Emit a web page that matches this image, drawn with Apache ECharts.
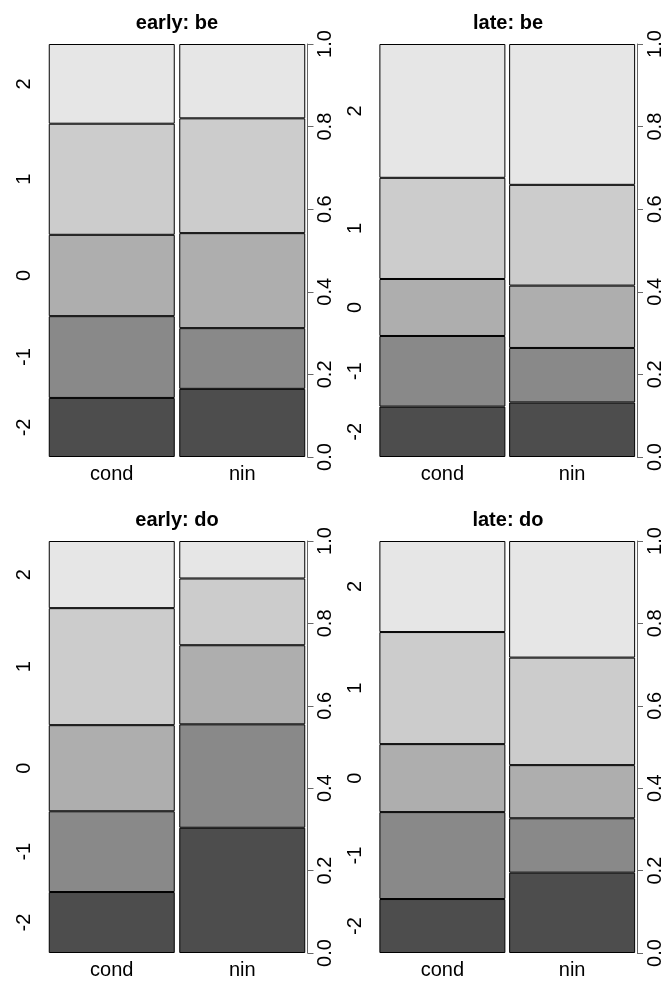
<!DOCTYPE html>
<html>
<head>
<meta charset="utf-8">
<title>spineplot</title>
<script src="https://cdn.jsdelivr.net/npm/echarts@6/dist/echarts.min.js"></script>
<style>
  html, body { margin: 0; padding: 0; background: #fff; }
  #chart { width: 665px; height: 983px; }
</style>
</head>
<body>
<div id="chart"></div>
<script>
// levels of the response, bottom to top
var levels = ['-2', '-1', '0', '1', '2'];
var groups = ['cond', 'nin'];
var panelTitles = ['early: be', 'late: be', 'early: do', 'late: do'];

// share of each level (bottom to top) inside a group
var earlyBeCond = [0.143, 0.198, 0.197, 0.269, 0.193];
var earlyBeNin  = [0.165, 0.147, 0.230, 0.278, 0.180];
var lateBeCond  = [0.122, 0.171, 0.138, 0.245, 0.324];
var lateBeNin   = [0.132, 0.132, 0.151, 0.244, 0.341];
var earlyDoCond = [0.148, 0.196, 0.209, 0.284, 0.163];
var earlyDoNin  = [0.304, 0.251, 0.192, 0.162, 0.091];
var lateDoCond  = [0.131, 0.211, 0.165, 0.272, 0.221];
var lateDoNin   = [0.195, 0.132, 0.129, 0.261, 0.283];

var panelData = [
  [earlyBeCond, earlyBeNin],
  [lateBeCond, lateBeNin],
  [earlyDoCond, earlyDoNin],
  [lateDoCond, lateDoNin]
];

// gray.colors(5)
var fills = ['#4D4D4D', '#898989', '#AEAEAE', '#CCCCCC', '#E6E6E6'];

var boxes = [
  { left: 46.5,  top: 44, width: 261, height: 413 },
  { left: 377.5, top: 44, width: 261, height: 413 },
  { left: 46.5,  top: 541, width: 261, height: 412 },
  { left: 377.5, top: 541, width: 261, height: 412 }
];

var font = 'Liberation Sans, Arial, sans-serif';

// left labels sit in the middle of each segment of the first bar
function midpoints(arr) {
  var out = [], c = 0;
  arr.forEach(function (v) { out.push(c + v / 2); c += v; });
  return out;
}

var option = {
  animation: false,
  backgroundColor: '#fff',
  title: [], grid: [], xAxis: [], yAxis: [], series: []
};

panelData.forEach(function (pd, p) {
  var b = boxes[p];
  var mids = midpoints(pd[0]);

  option.title.push({
    text: panelTitles[p],
    left: b.left + b.width / 2,
    top: b.top - 31,
    textAlign: 'center',
    padding: 0,
    textStyle: { fontFamily: font, fontSize: 20, fontWeight: 'bold', color: '#000' }
  });

  option.grid.push({ left: b.left, top: b.top, width: b.width, height: b.height });

  option.xAxis.push({
    type: 'category',
    gridIndex: p,
    data: groups,
    axisLine: { show: false },
    axisTick: { show: false },
    axisLabel: { margin: 7, fontFamily: font, fontSize: 20, color: '#000' }
  });

  // right axis: proportions
  option.yAxis.push({
    type: 'value',
    gridIndex: p,
    position: 'right',
    min: 0, max: 1, interval: 0.2,
    axisLine: { show: true, lineStyle: { color: '#666', width: 1 } },
    axisTick: { show: true, length: 6, lineStyle: { color: '#666' } },
    splitLine: { show: false },
    axisLabel: {
      rotate: 90, margin: 8,
      fontFamily: font, fontSize: 20, color: '#000',
      formatter: function (v) { return v.toFixed(1); }
    }
  });

  // left axis: level names
  option.yAxis.push({
    type: 'value',
    gridIndex: p,
    position: 'left',
    min: 0, max: 1,
    axisLine: { show: false },
    axisTick: { show: false },
    splitLine: { show: false },
    axisLabel: {
      rotate: 90, margin: 12,
      customValues: mids,
      fontFamily: font, fontSize: 20, color: '#000',
      formatter: function (v) {
        for (var i = 0; i < mids.length; i++) {
          if (Math.abs(mids[i] - v) < 1e-6) return levels[i];
        }
        return '';
      }
    }
  });

  levels.forEach(function (lv, k) {
    option.series.push({
      type: 'bar',
      name: lv,
      xAxisIndex: p,
      yAxisIndex: p * 2,
      stack: 'p' + p,
      barWidth: 126,
      data: [pd[0][k], pd[1][k]],
      itemStyle: { color: fills[k], borderColor: '#000', borderWidth: 1 }
    });
  });
});

var chart = echarts.init(document.getElementById('chart'));
chart.setOption(option);
</script>
</body>
</html>
